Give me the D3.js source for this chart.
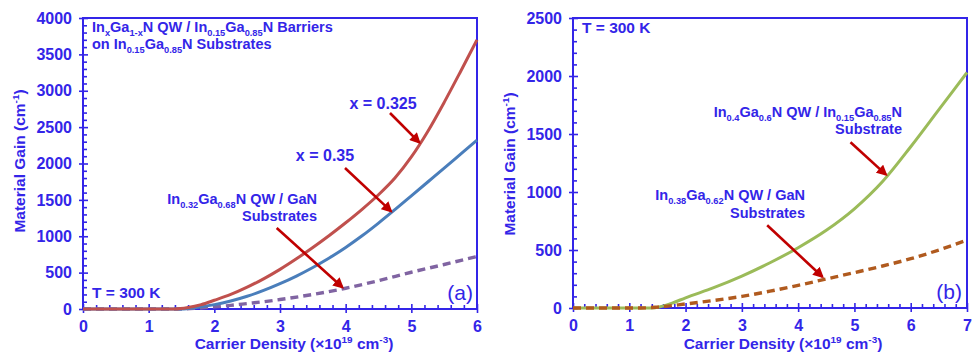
<!DOCTYPE html>
<html>
<head>
<meta charset="utf-8">
<script src="https://cdn.jsdelivr.net/npm/d3@7"></script>
<style>
  body { margin: 0; background: #fff; }
  svg { font-family: "Liberation Sans", Arial, sans-serif; }
</style>
</head>
<body>
<div id="chart"></div>
<script>
var svgWidth = 974;
var svgHeight = 354;

var BLUE = "#3325e8";
var ARROW = "#c00000";

// panel (a): carrier density (1e19 cm^-3) vs material gain (cm^-1)
var redX = [0, 1.4, 1.6, 1.8, 2.0, 2.25, 2.5, 2.75, 3.0, 3.25, 3.5, 3.75, 4.0, 4.25, 4.5, 4.75, 5.0, 5.25, 5.5, 5.75, 6.0];
var redGain = [0, 0, 20, 60, 120, 200, 300, 415, 545, 690, 845, 1010, 1185, 1370, 1570, 1800, 2090, 2440, 2840, 3265, 3700];
var blueX = [0, 1.5, 1.75, 2.0, 2.25, 2.5, 2.75, 3.0, 3.25, 3.5, 3.75, 4.0, 4.25, 4.5, 4.75, 5.0, 5.25, 5.5, 5.75, 6.0];
var blueGain = [0, 0, 25, 60, 110, 175, 255, 348, 453, 571, 701, 846, 1006, 1181, 1366, 1556, 1746, 1936, 2128, 2320];
var purpleX = [0, 1.5, 1.75, 2.0, 2.25, 2.5, 2.75, 3.0, 3.5, 4.0, 4.5, 5.0, 5.5, 6.0];
var purpleGain = [0, 0, 12, 30, 50, 75, 100, 130, 200, 285, 390, 505, 612, 722];

// panel (b)
var greenX = [0, 1.4, 1.75, 2.0, 2.5, 3.0, 3.5, 4.0, 4.5, 5.0, 5.5, 6.0, 6.5, 7.0];
var greenGain = [0, 0, 40, 88, 175, 275, 390, 520, 670, 855, 1090, 1390, 1710, 2030];
var brownX = [0, 1.2, 1.5, 2.0, 2.5, 3.0, 3.5, 4.0, 4.5, 5.0, 5.5, 6.0, 6.5, 7.0];
var brownGain = [0, 0, 8, 35, 65, 100, 145, 195, 250, 305, 362, 425, 500, 585];

var xTicksA = [0, 1, 2, 3, 4, 5, 6];
var yTicksA = [0, 500, 1000, 1500, 2000, 2500, 3000, 3500, 4000];
var xTicksB = [0, 1, 2, 3, 4, 5, 6, 7];
var yTicksB = [0, 500, 1000, 1500, 2000, 2500];

var svg = d3.select("#chart").append("svg")
  .attr("width", svgWidth)
  .attr("height", svgHeight);

var defs = svg.append("defs");
defs.append("marker")
  .attr("id", "arr")
  .attr("viewBox", "0 0 10 10")
  .attr("refX", 8)
  .attr("refY", 5)
  .attr("markerWidth", 4.4)
  .attr("markerHeight", 4.2)
  .attr("orient", "auto")
  .append("path")
  .attr("d", "M0,0 L10,5 L0,10 z")
  .attr("fill", ARROW);

// text with sub/superscripts: parts = [[string, "sub"|"sup"|undefined], ...]
function rich(g, x, y, parts, size, anchor, weight) {
  var t = g.append("text")
    .attr("x", x)
    .attr("y", y)
    .attr("text-anchor", anchor || "start")
    .attr("fill", BLUE)
    .style("font-size", size + "px")
    .style("font-weight", weight || "bold");
  var shift = 0;
  parts.forEach(function (p) {
    var target = p[1] === "sub" ? size * 0.26 : p[1] === "sup" ? -size * 0.38 : 0;
    t.append("tspan")
      .attr("dy", target - shift)
      .style("font-size", (p[1] ? size * 0.64 : size) + "px")
      .text(p[0]);
    shift = target;
  });
  return t;
}

function drawPanel(cfg) {
  var w = cfg.right - cfg.left;
  var h = cfg.bottom - cfg.top;
  var g = svg.append("g").attr("transform", `translate(${cfg.left}, ${cfg.top})`);

  var x = d3.scaleLinear().domain([0, cfg.xMax]).range([0, w]);
  var y = d3.scaleLinear().domain([0, cfg.yMax]).range([h, 0]);

  var minorX = d3.range(0, cfg.xMax + 0.001, 0.2).filter(function (v) { return Math.abs(v - Math.round(v)) > 0.01; });
  var minorY = d3.range(0, cfg.yMax + 1, 100).filter(function (v) { return v % 500 !== 0; });

  // bottom axis: minor inward, major crossing, labels
  g.append("g").attr("class", "ax").attr("transform", `translate(0, ${h})`)
    .call(d3.axisTop(x).tickValues(minorX).tickSize(4).tickFormat(""));
  g.append("g").attr("class", "ax").attr("transform", `translate(0, ${h})`)
    .call(d3.axisTop(x).tickValues(cfg.xTicks).tickSize(5).tickFormat(""));
  g.append("g").attr("class", "ax lab").attr("transform", `translate(0, ${h})`)
    .call(d3.axisBottom(x).tickValues(cfg.xTicks).tickSize(4).tickPadding(8).tickFormat(d3.format("d")));

  // left axis
  g.append("g").attr("class", "ax")
    .call(d3.axisRight(y).tickValues(minorY).tickSize(4).tickFormat(""));
  g.append("g").attr("class", "ax")
    .call(d3.axisRight(y).tickValues(cfg.yTicks).tickSize(5).tickFormat(""));
  g.append("g").attr("class", "ax lab")
    .call(d3.axisLeft(y).tickValues(cfg.yTicks).tickSize(4).tickPadding(7).tickFormat(d3.format("d")));

  g.selectAll(".ax .domain").remove();
  g.selectAll(".ax line").attr("stroke", BLUE).attr("stroke-width", 1.6);
  g.selectAll(".lab text")
    .attr("fill", BLUE)
    .style("font-size", "16px")
    .style("font-weight", "bold")
    .style("font-family", "'Liberation Sans', Arial, sans-serif");

  // frame
  g.append("rect")
    .attr("width", w)
    .attr("height", h)
    .attr("fill", "none")
    .attr("stroke", BLUE)
    .attr("stroke-width", 2);

  var line = d3.line()
    .x(function (d) { return x(d[0]); })
    .y(function (d) { return y(d[1]); })
    .curve(d3.curveMonotoneX);

  cfg.series.forEach(function (s) {
    g.append("path")
      .datum(d3.zip(s.xs, s.ys))
      .attr("d", line)
      .attr("fill", "none")
      .attr("stroke", s.color)
      .attr("stroke-width", s.dash ? 3.4 : 3)
      .attr("stroke-dasharray", s.dash ? "8,5" : null);
  });

  cfg.arrows.forEach(function (a) {
    g.append("line")
      .attr("x1", x(a[0])).attr("y1", y(a[1]))
      .attr("x2", x(a[2])).attr("y2", y(a[3]))
      .attr("stroke", ARROW)
      .attr("stroke-width", 2.6)
      .attr("marker-end", "url(#arr)");
  });

  // axis titles
  rich(svg, cfg.xTitleX, 349, [["Carrier Density (×10"], ["19", "sup"], [" cm"], ["-3", "sup"], [")"]], 15.5, "middle");
  var yt = svg.append("g").attr("transform", `translate(${cfg.yTitleX}, ${cfg.yTitleY}) rotate(-90)`);
  rich(yt, 0, 0, [["Material Gain (cm"], ["-1", "sup"], [")"]], 15.5, "middle");

  return g;
}

// panel (a)
drawPanel({
  left: 83, right: 477, top: 18, bottom: 309,
  xMax: 6, yMax: 4000, xTicks: xTicksA, yTicks: yTicksA,
  xTitleX: 294, yTitleX: 25, yTitleY: 161,
  series: [
    { xs: purpleX, ys: purpleGain, color: "#8064a2", dash: true },
    { xs: blueX, ys: blueGain, color: "#4a7ebb" },
    { xs: redX, ys: redGain, color: "#c0504d" }
  ],
  arrows: [
    [4.675, 2694, 5.12, 2290],
    [3.99, 1938, 4.69, 1345],
    [2.95, 1113, 3.95, 300]
  ]
});

// panel (b)
drawPanel({
  left: 573, right: 967, top: 18, bottom: 308,
  xMax: 7, yMax: 2500, xTicks: xTicksB, yTicks: yTicksB,
  xTitleX: 783, yTitleX: 515, yTitleY: 164,
  series: [
    { xs: greenX, ys: greenGain, color: "#9bbb59" },
    { xs: brownX, ys: brownGain, color: "#b05a1e", dash: true }
  ],
  arrows: [
    [4.93, 1429, 5.56, 1150],
    [3.45, 713, 4.43, 270]
  ]
});

// annotations, panel (a)
rich(svg, 92, 32, [["In"], ["x", "sub"], ["Ga"], ["1-x", "sub"], ["N QW / In"], ["0.15", "sub"], ["Ga"], ["0.85", "sub"], ["N Barriers"]], 14.5);
rich(svg, 92, 49, [["on In"], ["0.15", "sub"], ["Ga"], ["0.85", "sub"], ["N Substrates"]], 14.5);
rich(svg, 383, 109, [["x = 0.325"]], 16, "middle");
rich(svg, 325, 161, [["x = 0.35"]], 16, "middle");
rich(svg, 317, 204, [["In"], ["0.32", "sub"], ["Ga"], ["0.68", "sub"], ["N QW / GaN"]], 14.5, "end");
rich(svg, 317, 221, [["Substrates"]], 14.5, "end");
rich(svg, 92, 298, [["T = 300 K"]], 15.5);
rich(svg, 473, 300, [["(a)"]], 21, "end", "normal");

// annotations, panel (b)
rich(svg, 582, 33, [["T = 300 K"]], 15.5);
rich(svg, 902, 117, [["In"], ["0.4", "sub"], ["Ga"], ["0.6", "sub"], ["N QW / In"], ["0.15", "sub"], ["Ga"], ["0.85", "sub"], ["N"]], 14.5, "end");
rich(svg, 902, 134, [["Substrate"]], 14.5, "end");
rich(svg, 805, 200, [["In"], ["0.38", "sub"], ["Ga"], ["0.62", "sub"], ["N QW / GaN"]], 14.5, "end");
rich(svg, 805, 218, [["Substrates"]], 14.5, "end");
rich(svg, 962, 299, [["(b)"]], 21, "end", "normal");
</script>
</body>
</html>
